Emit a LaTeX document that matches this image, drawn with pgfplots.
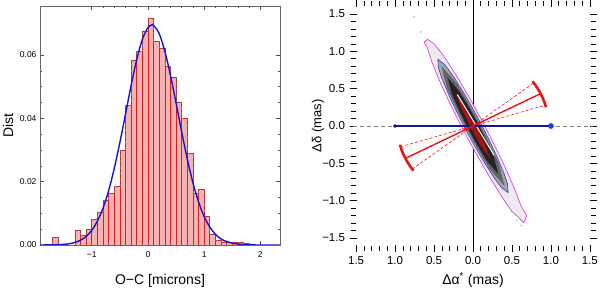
\documentclass[border=0pt]{standalone}
\usepackage{fontspec}
\setmainfont{Liberation Sans}
\usepackage{pgfplots}
\pgfplotsset{compat=1.18}
\newcommand\lt[1]{{\fontsize{8.5}{10}\selectfont #1}}
\newcommand\rt[1]{{\fontsize{11.5}{13}\selectfont #1}}
\definecolor{histfill}{RGB}{245,178,178}
\definecolor{histedge}{RGB}{215,30,30}
\definecolor{stair}{RGB}{140,95,95}
\definecolor{curveblue}{RGB}{20,20,205}
\definecolor{mag}{RGB}{225,40,225}
\definecolor{magfill}{RGB}{238,234,240}
\definecolor{cblue}{RGB}{40,60,210}
\definecolor{cgray}{RGB}{165,165,165}
\definecolor{cmid}{RGB}{100,100,100}
\definecolor{ccore}{RGB}{35,35,35}
\definecolor{cred}{RGB}{165,20,20}
\definecolor{navy2}{RGB}{15,25,140}
\definecolor{lred}{RGB}{235,20,20}
\begin{document}
\begin{tikzpicture}
\path[use as bounding box] (0,0) rectangle (600pt,288pt);
% ---------------- left panel ----------------
\begin{axis}[at={(40pt,43pt)}, anchor=south west, scale only axis,
  width=240pt, height=239pt,
  xmin=-1.92, xmax=2.35, ymin=0, ymax=0.0755,
  xtick={-1,0,1,2}, xticklabels={\lt{−1},\lt{0},\lt{1},\lt{2}},
  ytick={0,0.02,0.04,0.06}, yticklabels={\lt{0.00},\lt{0.02},\lt{0.04},\lt{0.06}},
  minor x tick num=4, minor y tick num=3,
  tick align=inside, major tick length=4pt, minor tick length=2.2pt,
  tick style={black!70, line width=0.5pt},
  axis line style={black!60, line width=0.6pt},
  xticklabel style={yshift=-3pt},
  xlabel={\fontsize{14}{16}\selectfont O−C [microns]},
  ylabel={\fontsize{14}{16}\selectfont Dist},
  every axis x label/.style={at={(axis description cs:0.5,-0.15)}, anchor=center},
  every axis y label/.style={at={(axis description cs:-0.133,0.5)}, rotate=90, anchor=center},
  clip=true]
\addplot[ybar interval, fill=histfill, draw=histedge, line width=0.5pt] coordinates {
(-1.8,0) (-1.7,0.0024) (-1.6,0) (-1.5,0) (-1.4,0) (-1.3,0.0047) (-1.2,0.0032)
(-1.1,0.0050) (-1.0,0.0081) (-0.9,0.0105) (-0.8,0.0140) (-0.7,0.0163) (-0.6,0.0184)
(-0.5,0.0300) (-0.4,0.0442) (-0.3,0.0585) (-0.2,0.0612) (-0.1,0.0675) (0.0,0.0716)
(0.1,0.0645) (0.2,0.0620) (0.3,0.0565) (0.4,0.0530) (0.5,0.0450) (0.6,0.0400)
(0.7,0.0290) (0.8,0.0165) (0.9,0.0175) (1.0,0.0090) (1.1,0.0035) (1.2,0.0016)
(1.3,0.0008) (1.4,0.0008) (1.5,0.0008) (1.6,0.0008) (1.7,0.0005) (1.8,0)};
\addplot[const plot, stair, dashed, line width=0.5pt] coordinates {
(-1.8,0) (-1.7,0.0024) (-1.6,0) (-1.5,0) (-1.4,0) (-1.3,0.0047) (-1.2,0.0032)
(-1.1,0.0050) (-1.0,0.0081) (-0.9,0.0105) (-0.8,0.0140) (-0.7,0.0163) (-0.6,0.0184)
(-0.5,0.0300) (-0.4,0.0442) (-0.3,0.0585) (-0.2,0.0612) (-0.1,0.0675) (0.0,0.0716)
(0.1,0.0645) (0.2,0.0620) (0.3,0.0565) (0.4,0.0530) (0.5,0.0450) (0.6,0.0400)
(0.7,0.0290) (0.8,0.0165) (0.9,0.0175) (1.0,0.0090) (1.1,0.0035) (1.2,0.0016)
(1.3,0.0008) (1.4,0.0008) (1.5,0.0008) (1.6,0.0008) (1.7,0.0005) (1.8,0)};
\addplot[curveblue, line width=1.4pt, smooth] coordinates {
(-1.92,0) (-1.7,0.00005) (-1.6,0.0001) (-1.5,0.0002) (-1.4,0.0004) (-1.3,0.0008)
(-1.2,0.0015) (-1.1,0.0027) (-1.0,0.0046) (-0.9,0.0075) (-0.8,0.0116) (-0.7,0.0171)
(-0.6,0.0241) (-0.5,0.0323) (-0.4,0.0412) (-0.3,0.0503) (-0.2,0.0585) (-0.1,0.0649)
(0.0,0.0687) (0.07,0.0695) (0.1,0.0694) (0.2,0.0668) (0.3,0.0613) (0.4,0.0537)
(0.5,0.0449) (0.6,0.0358) (0.7,0.0272) (0.8,0.0197) (0.9,0.0137) (1.0,0.0090)
(1.1,0.0057) (1.2,0.0034) (1.3,0.0019) (1.4,0.0011) (1.5,0.0006) (1.6,0.0003)
(1.7,0.00013) (1.8,0.00005) (2.0,0) (2.35,0)};
\end{axis}
% ---------------- right panel ----------------
\begin{axis}[at={(353pt,39.5pt)}, anchor=south west, scale only axis,
  width=240pt, height=245pt,
  xmin=-1.54, xmax=1.54, ymin=-1.64, ymax=1.64,
  separate axis lines, axis line style={draw=none},
  xtick={-1.5,-1,-0.5,0,0.5,1,1.5},
  xticklabels={\rt{1.5},\rt{1.0},\rt{0.5},\rt{0.0},\rt{0.5},\rt{1.0},\rt{1.5}},
  ytick={-1.5,-1,-0.5,0,0.5,1,1.5},
  yticklabels={\rt{−1.5},\rt{−1.0},\rt{−0.5},\rt{0.0},\rt{0.5},\rt{1.0},\rt{1.5}},
  minor x tick num=4, minor y tick num=4,
  tick align=center, major tick length=7pt, minor tick length=5pt,
  tick style={black, line width=0.6pt},
  xticklabel style={yshift=-1pt}, yticklabel style={xshift=-1pt},
  xlabel={\fontsize{14}{16}\selectfont Δα\textsuperscript{*} (mas)},
  ylabel={\fontsize{13}{15}\selectfont Δδ (mas)},
  every axis x label/.style={at={(axis description cs:0.5,-0.13)}, anchor=center},
  every axis y label/.style={at={(axis description cs:-0.146,0.5)}, rotate=90, anchor=center},
  clip=true]
\addplot[gray, dashed, line width=0.6pt, dash pattern=on 4pt off 3pt] coordinates {(-1.54,0) (1.54,0)};
\addplot[black, line width=0.5pt] coordinates {(0,-1.64) (0,1.64)};
% outer (magenta) contour
\addplot[mag, fill=magfill, line width=0.6pt] coordinates {
(-0.585,1.161) (-0.494,1.095) (-0.373,0.932) (-0.213,0.676) (-0.041,0.371)
(0.121,0.061) (0.275,-0.254) (0.421,-0.572) (0.537,-0.849) (0.580,-0.97) (0.624,-1.086)
(0.690,-1.20) (0.6525,-1.295) (0.570,-1.21) (0.501,-1.147) (0.363,-0.937)
(0.210,-0.678) (0.041,-0.372) (-0.121,-0.061) (-0.274,0.254) (-0.417,0.574)
(-0.527,0.854) (-0.586,1.048) (-0.625,1.12) (-0.585,1.161)} -- cycle;
% blue contour
\addplot[cblue, fill=cgray, line width=0.6pt] coordinates {
(-0.45,0.893) (-0.364,0.824) (-0.2755,0.701) (-0.144,0.487) (-0.022,0.269) (0.094,0.047)
(0.203,-0.178) (0.306,-0.406) (0.3995,-0.639) (0.4456,-0.783) (0.45,-0.893)
(0.364,-0.824) (0.2755,-0.701) (0.144,-0.487) (0.022,-0.269) (-0.094,-0.047)
(-0.203,0.178) (-0.306,0.406) (-0.3995,0.639) (-0.4456,0.783) (-0.45,0.893)} -- cycle;
% mid gray
\addplot[draw=none, fill=cmid] coordinates {
(-0.405,0.804) (-0.207,0.568) (-0.061,0.305) (0.079,0.040) (0.209,-0.231) (0.333,-0.504)
(0.405,-0.804) (0.207,-0.568) (0.061,-0.305) (-0.079,-0.040) (-0.209,0.231)
(-0.333,0.504) (-0.405,0.804)} -- cycle;
% dark core
\addplot[draw=none, fill=ccore] coordinates {
(-0.324,0.643) (-0.18,0.469) (-0.054,0.253) (0.0625,0.0315) (0.1711,-0.1937)
(0.270,-0.4238) (0.324,-0.643) (0.18,-0.469) (0.054,-0.253) (-0.0625,-0.0315)
(-0.1711,0.1937) (-0.270,0.4238) (-0.324,0.643)} -- cycle;
% red core
\addplot[draw=none, fill=cred] coordinates {
(-0.225,0.4465) (-0.085,0.237) (0.0313,0.0158) (0.140,-0.210) (0.225,-0.4465)
(0.085,-0.237) (-0.0313,-0.0158) (-0.140,0.210) (-0.225,0.4465)} -- cycle;
% white line
\addplot[white, line width=1pt] coordinates {(-0.20,0.42) (0.27,-0.39)};
% specks
\addplot[only marks, mark=*, mark size=0.7pt, gray!50] coordinates {(-0.76,1.46) (-0.67,1.26) (0.56,-1.26) (0.62,-1.33)};
% blue line
\addplot[navy2, line width=1.2pt] coordinates {(-1,0) (1,0)};
\addplot[only marks, mark=*, mark size=1.6pt, navy2] coordinates {(-1,0)};
\addplot[only marks, mark=*, mark size=2.6pt, cblue] coordinates {(1,0)};
% red lines
\addplot[lred, dashed, line width=0.6pt, dash pattern=on 3pt off 2pt] coordinates {(-0.780,-0.577) (0.780,0.577)};
\addplot[lred, dashed, line width=0.6pt, dash pattern=on 3pt off 2pt] coordinates {(-0.929,-0.279) (0.929,0.279)};
\addplot[lred, line width=1.4pt] coordinates {(-0.868,-0.434) (0.868,0.434)};
\addplot[lred, line width=2.6pt, smooth] coordinates {(0.937,0.251) (0.912,0.332) (0.879,0.410) (0.840,0.485) (0.795,0.556) (0.764,0.597)};
\addplot[lred, line width=2.6pt, smooth] coordinates {(-0.937,-0.251) (-0.912,-0.332) (-0.879,-0.410) (-0.840,-0.485) (-0.795,-0.556) (-0.764,-0.597)};
\end{axis}
\end{tikzpicture}
\end{document}
